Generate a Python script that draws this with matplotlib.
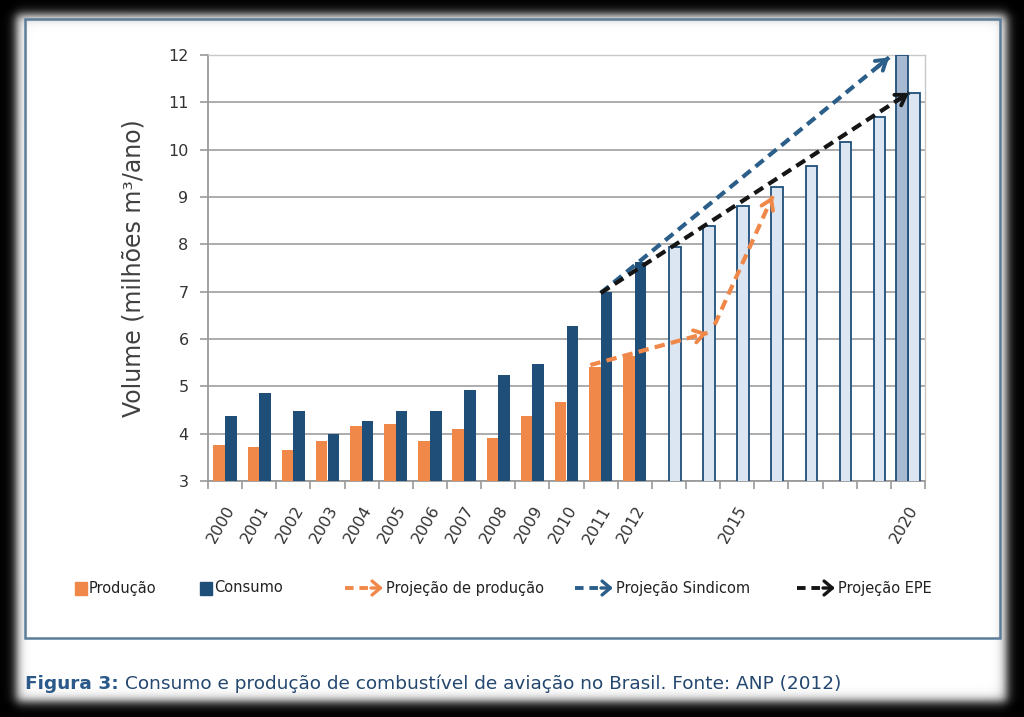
import matplotlib.pyplot as plt
import numpy as np
from matplotlib.patches import Rectangle

years = list(range(2000, 2013))
producao = [3.76, 3.72, 3.65, 3.84, 4.16, 4.20, 3.84, 4.09, 3.90, 4.38, 4.67, 5.40, 5.65]
consumo = [4.38, 4.85, 4.48, 4.00, 4.27, 4.48, 4.48, 4.92, 5.25, 5.47, 6.28, 7.00, 7.62]
proj_years = list(range(2013, 2021))
proj_consumo = [7.95, 8.38, 8.80, 9.22, 9.65, 10.17, 10.68, 11.20]
sindicom_2020 = 12.0
label_years = years + [2015, 2020]

# arrow paths (year, volume)
arr_producao_1 = [(2010.7, 5.45), (2014.13, 6.13)]
arr_producao_2 = [(2014.34, 6.30), (2016.04, 9.02)]
arr_sindicom = [(2011.0, 6.97), (2019.45, 11.95)]
arr_epe = [(2011.0, 6.97), (2020.03, 11.20)]

c_orange = '#f0884a'
c_blue = '#1f4e79'
c_light = '#dce6f2'
c_mid = '#a7bad2'
c_sind = '#2b5f8a'
c_epe = '#151515'

fig = plt.figure(figsize=(10.24, 7.17), dpi=100)
fig.patch.set_facecolor('black')

# background: white panel with soft black edges
bg = fig.add_axes([0, 0, 1, 1])
W, H = 1024, 717
xx, yy = np.meshgrid(np.arange(W), np.arange(H))
def soft(d):
    return 1 / (1 + np.exp(-d / 3.0))
panel = soft(xx - 16) * soft(1006 - xx) * soft(yy - 14) * soft(701 - yy)
bg.imshow(panel, cmap='gray', vmin=0, vmax=1, extent=[0, W, H, 0], aspect='auto', interpolation='bilinear')
bg.add_patch(Rectangle((24.5, 18.5), 975, 619, fill=False, ec='#5b7d9a', lw=1.8))
bg.set_xlim(0, W)
bg.set_ylim(H, 0)
bg.axis('off')

ax = fig.add_axes([208 / W, 1 - 481 / H, 717 / W, 426 / H])
ax.set_facecolor('white')
bw = 0.34
ax.bar(np.array(years) - bw / 2, producao, bw, color=c_orange, zorder=3)
ax.bar(np.array(years) + bw / 2, consumo, bw, color=c_blue, zorder=3)
ax.bar(np.array(proj_years) + bw / 2, proj_consumo, bw, color=c_light, edgecolor=c_blue, lw=1.3, zorder=3)
ax.bar([2020 - bw / 2], [sindicom_2020], bw, color=c_mid, edgecolor=c_blue, lw=1.3, zorder=3)

ax.set_ylim(3, 12)
ax.set_xlim(1999.5, 2020.5)
ax.set_yticks(range(3, 13))
ax.yaxis.grid(True, color='#a6a6a6', lw=1.3, zorder=0)
ax.set_axisbelow(True)
for s in ['left', 'bottom']:
    ax.spines[s].set_color('#9a9a9a')
    ax.spines[s].set_linewidth(1.3)
for s in ['top', 'right']:
    ax.spines[s].set_color('#c8c8c8')
    ax.spines[s].set_linewidth(1.0)
ax.tick_params(axis='y', length=6, width=1.2, color='#9a9a9a', labelsize=11.5, labelcolor='#333333', pad=8)
ax.set_xticks(np.arange(1999.5, 2021, 1))
ax.set_xticklabels([])
ax.tick_params(axis='x', which='major', length=6, width=1.2, color='#9a9a9a')
ax.set_xticks(label_years, minor=True)
ax.set_xticklabels([str(y) for y in label_years], minor=True, rotation=60, ha='right',
                   rotation_mode='anchor', fontsize=11.5, color='#333333')
ax.tick_params(axis='x', which='minor', length=0, pad=16)

ax.set_ylabel('Volume (milhões m³/ano)', fontsize=17, color='#404040', labelpad=16)


def dashed_arrow(path, color):
    (x0, y0), (x1, y1) = path
    ax.plot([x0, x1], [y0, y1], color=color, lw=3, dashes=(2.5, 1.5), zorder=5,
            solid_capstyle='butt', clip_on=False)
    bx = x1 - 0.04 * (x1 - x0)
    by = y1 - 0.04 * (y1 - y0)
    ax.annotate('', xy=(x1, y1), xytext=(bx, by), zorder=6, annotation_clip=False,
                arrowprops=dict(arrowstyle='->,head_length=0.7,head_width=0.45', lw=2.8,
                                color=color, shrinkA=0, shrinkB=0))

dashed_arrow(arr_producao_1, c_orange)
dashed_arrow(arr_producao_2, c_orange)
dashed_arrow(arr_sindicom, c_sind)
dashed_arrow(arr_epe, c_epe)

# legend drawn in pixel coordinates of the background axes
ly = 588
fsz = 10.5
bg.add_patch(Rectangle((75, ly - 6.5), 12, 13, color=c_orange))
bg.text(89, ly, 'Produção', fontsize=fsz, va='center', color='#222222')
bg.add_patch(Rectangle((200, ly - 6.5), 12, 13, color=c_blue))
bg.text(214, ly, 'Consumo', fontsize=fsz, va='center', color='#222222')

def legend_arrow(x, color):
    bg.plot([x, x + 28], [ly, ly], color=color, lw=2.8, dashes=(2.2, 1.5), solid_capstyle='butt')
    bg.annotate('', xy=(x + 38, ly), xytext=(x + 26, ly),
                arrowprops=dict(arrowstyle='->,head_length=0.6,head_width=0.5', lw=2.4,
                                color=color, shrinkA=0, shrinkB=0))

legend_arrow(345, c_orange)
bg.text(386, ly, 'Projeção de produção', fontsize=fsz, va='center', color='#222222')
legend_arrow(575, c_sind)
bg.text(616, ly, 'Projeção Sindicom', fontsize=fsz, va='center', color='#222222')
legend_arrow(797, c_epe)
bg.text(838, ly, 'Projeção EPE', fontsize=fsz, va='center', color='#222222')

# caption
cy = 684
t1 = bg.text(25, cy, 'Figura 3:', fontsize=13.3, fontweight='bold', va='center', color='#2b5a8a')
fig.canvas.draw()
x_end = t1.get_window_extent().x1
bg.text(x_end + 6, cy, 'Consumo e produção de combustível de aviação no Brasil. Fonte: ANP (2012)',
        fontsize=13.3, va='center', color='#24476f')

fig.savefig('out.png', dpi=100, facecolor='black')
